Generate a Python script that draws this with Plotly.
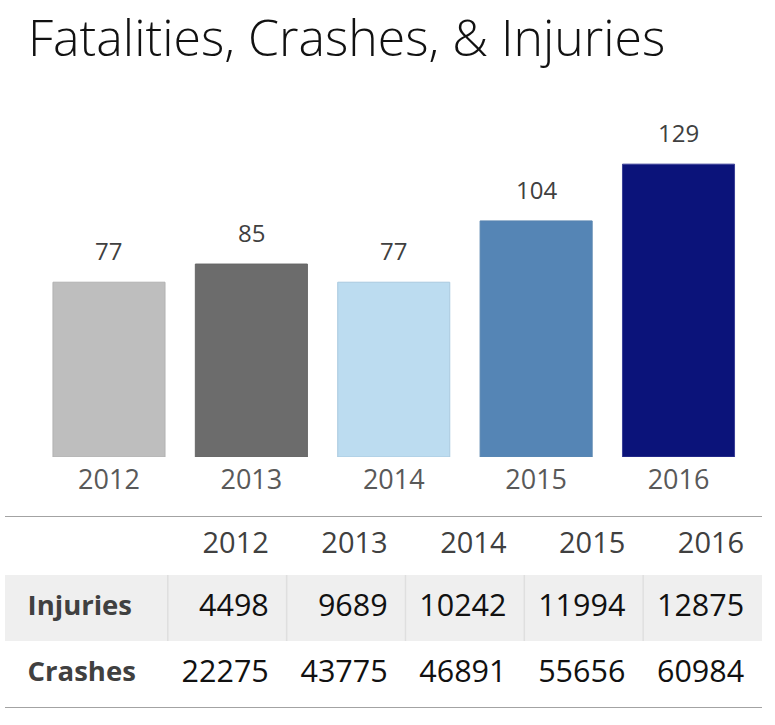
import plotly.graph_objects as go

# ---------------- data ----------------
years = ["2012", "2013", "2014", "2015", "2016"]
fatalities = [77, 85, 77, 104, 129]
injuries = [4498, 9689, 10242, 11994, 12875]
crashes = [22275, 43775, 46891, 55656, 60984]
row_labels = ["Injuries", "Crashes"]

bar_colors = ["#bebebe", "#6c6c6c", "#bcdcf0", "#5585b5", "#0b137a"]
bar_edges = ["#b2b2b2", "#666666", "#a9c9df", "#5a86b0", "#3a3f96"]

W, H = 775, 725
FONT = "Open Sans"


def px_x(p):
    return p / W


def px_y(p):
    return 1 - p / H


fig = go.Figure()

# ---------------- bar chart ----------------
fig.add_trace(go.Bar(
    x=years, y=fatalities,
    marker=dict(color=bar_colors, line=dict(color=bar_edges, width=1)),
    xaxis="x", yaxis="y", hoverinfo="x+y", showlegend=False,
))

px_per_unit = 2.27
bar_bottom, plot_top = 457, 120
for i, v in enumerate(fatalities):
    fig.add_annotation(
        x=i, y=v, xref="x", yref="y", text=str(v), showarrow=False,
        yanchor="bottom", yshift=13,
        font=dict(family=FONT, size=24, color="#404040"),
    )

# ---------------- table ----------------
label_w = 1.37          # width of label column in column units
row_edges = [0, 59, 125, 192]
row_centers = [(row_edges[i] + row_edges[i + 1]) / 2 for i in range(3)]
pad_r = 0.15
pad_l = 0.19
col_right = [k + 1 - pad_r for k in range(len(years))]

# shaded injuries row
fig.add_trace(go.Heatmap(
    z=[[1] * (len(years) + 1)],
    x=[-label_w] + list(range(len(years) + 1)),
    y=[row_edges[1], row_edges[2]],
    colorscale=[[0, "#efefef"], [1, "#efefef"]],
    showscale=False, hoverinfo="skip", xaxis="x2", yaxis="y2",
))

# header years
fig.add_trace(go.Scatter(
    x=col_right, y=[row_centers[0]] * len(years), text=years,
    mode="text", textposition="middle left",
    textfont=dict(family=FONT, size=29, color="#404040"),
    xaxis="x2", yaxis="y2", hoverinfo="skip", showlegend=False,
))
for ri, vals in enumerate([injuries, crashes]):
    fig.add_trace(go.Scatter(
        x=col_right, y=[row_centers[ri + 1]] * len(years),
        text=[str(v) for v in vals],
        mode="text", textposition="middle left",
        textfont=dict(family=FONT, size=30.5, color="#111111"),
        xaxis="x2", yaxis="y2", hoverinfo="skip", showlegend=False,
    ))
fig.add_trace(go.Scatter(
    x=[-label_w + pad_l] * 2, y=row_centers[1:], text=row_labels,
    mode="text", textposition="middle right",
    textfont=dict(family=FONT, size=27.5, color="#404040", weight="bold"),
    xaxis="x2", yaxis="y2", hoverinfo="skip", showlegend=False,
))

shapes = []
for k in range(len(years)):
    shapes.append(dict(type="line", xref="x2", yref="y2", x0=k, x1=k,
                       y0=row_edges[1], y1=row_edges[2],
                       line=dict(color="#dfdfdf", width=1.5), layer="above"))
for yv in (row_edges[0], row_edges[-1]):
    shapes.append(dict(type="line", xref="x2", yref="y2", x0=-label_w - 0.01,
                       x1=len(years), y0=yv, y1=yv,
                       line=dict(color="#a3a3a3", width=2)))

fig.update_layout(
    width=W, height=H,
    margin=dict(l=0, r=0, t=0, b=0, autoexpand=False),
    paper_bgcolor="white", plot_bgcolor="white",
    bargap=0.213,
    showlegend=False,
    title=dict(
        text="Fatalities, Crashes, & Injuries",
        x=px_x(28), xanchor="left", xref="paper",
        y=px_y(38), yanchor="middle", yref="container",
        font=dict(family=FONT, size=50, color="#111111", weight=300),
    ),
    xaxis=dict(
        domain=[px_x(37.8), px_x(749.7)], type="category",
        range=[-0.5, len(years) - 0.5], autorange=False,
        showgrid=False, zeroline=False, showline=False, ticks="",
        tickfont=dict(family=FONT, size=27, color="#595959"),
        ticklabelstandoff=4,
    ),
    yaxis=dict(
        domain=[px_y(bar_bottom), px_y(plot_top)],
        range=[0, (bar_bottom - plot_top) / px_per_unit], autorange=False,
        visible=False,
    ),
    xaxis2=dict(
        domain=[px_x(5), px_x(762)], range=[-label_w, len(years)],
        autorange=False, visible=False, anchor="y2",
    ),
    yaxis2=dict(
        domain=[px_y(708), px_y(516)], range=[row_edges[-1], row_edges[0]],
        autorange=False, visible=False, anchor="x2",
    ),
    shapes=shapes,
)

fig.write_html("out.html")
